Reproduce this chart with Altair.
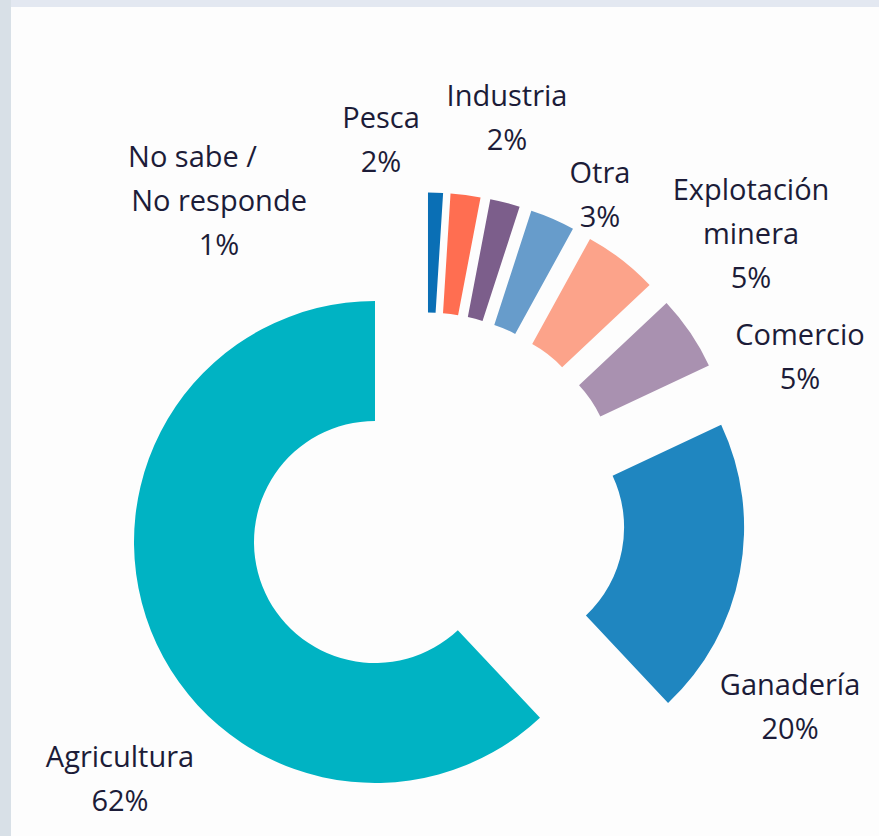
import altair as alt
import pandas as pd

# ---- data ----
categories = ["No sabe / No responde", "Pesca", "Industria", "Otra",
              "Explotación minera", "Comercio", "Ganadería", "Agricultura"]
values = [1, 2, 2, 3, 5, 5, 20, 62]
label_first = ["No sabe /", "Pesca", "Industria", "Otra",
               "Explotación", "Comercio", "Ganadería", "Agricultura"]
label_rest = ["No responde", "", "", "", "minera", "", "", ""]
colors = ["#0A6FB5", "#FF6E51", "#7C5E8B", "#679CCB",
          "#FCA38A", "#A991B0", "#1F86C0", "#00B3C3"]

# ---- layout / style (not data) ----
CX, CY = 375, 542          # centre of the main slice
GX, GY = 50.5, -29.5       # shift of the exploded group
EXPLODE = 79               # radial explosion of the small slices
R_OUT, R_IN = 241, 121
# label nudges relative to each slice's outer mid-point
nudge_x = [-216.5, -84.6, 1.9, 47.4, 129.4, 109.8, 50.2, -30.9]
nudge_y = [-25.7, -67.0, -96.5, -35.8, -59.6, 12.4, 122.5, 136.3]
LEFT_FIRST = {0: -91}      # first line drawn flush-left for this label

df = pd.DataFrame({
    "order": list(range(len(categories))),
    "category": categories,
    "value": values,
    "first": label_first,
    "rest": label_rest,
    "color": colors,
    "nx": nudge_x,
    "ny": nudge_y,
})

main = "Agricultura"

base = alt.Chart(df).transform_joinaggregate(
    total="sum(value)"
).transform_window(
    cum="sum(value)", sort=[alt.SortField("order")], frame=[None, 0]
).transform_calculate(
    t0="(datum.cum - datum.value) / datum.total * 2 * PI",
    t1="datum.cum / datum.total * 2 * PI",
).transform_calculate(
    mid="(datum.t0 + datum.t1) / 2",
).transform_calculate(
    cx=f"datum.category == '{main}' ? {CX} : {CX + GX} + {EXPLODE} * sin(datum.mid)",
    cy=f"datum.category == '{main}' ? {CY} : {CY + GY} - {EXPLODE} * cos(datum.mid)",
).transform_calculate(
    lx=f"datum.cx + {R_OUT} * sin(datum.mid) + datum.nx",
    ly=f"datum.cy - {R_OUT} * cos(datum.mid) + datum.ny",
).transform_calculate(
    body=("(datum.order == 0 ? '' : datum.first) + '\\n' + "
          "(datum.rest != '' ? datum.rest + '\\n' : '') + datum.value + '%'"),
)

arcs = base.mark_arc(radius=R_OUT, radius2=R_IN).encode(
    x=alt.X("cx:Q", scale=None, axis=None),
    y=alt.Y("cy:Q", scale=None, axis=None),
    theta=alt.Theta("t0:Q", scale=None),
    theta2=alt.Theta2("t1:Q"),
    color=alt.Color("color:N", scale=None, legend=None),
)

text_style = dict(font="Open Sans", fontSize=29, color="#1C1C38",
                  baseline="alphabetic", lineBreak="\n", lineHeight=44)

labels = base.mark_text(align="center", **text_style).encode(
    x=alt.X("lx:Q", scale=None, axis=None),
    y=alt.Y("ly:Q", scale=None, axis=None),
    text="body:N",
)

first_left = base.transform_filter("datum.order == 0").mark_text(
    align="left", dx=LEFT_FIRST[0], **text_style).encode(
    x=alt.X("lx:Q", scale=None, axis=None),
    y=alt.Y("ly:Q", scale=None, axis=None),
    text="first:N",
)

# page frame (top and left strips)
frame_df = pd.DataFrame({"part": ["top", "left"]})
top_strip = alt.Chart(frame_df).transform_filter("datum.part == 'top'").mark_rect(
    color="#E3E8F1").encode(
    x=alt.value(0), x2=alt.value(879), y=alt.value(0), y2=alt.value(7))
left_strip = alt.Chart(frame_df).transform_filter("datum.part == 'left'").mark_rect(
    color="#D8E0E7").encode(
    x=alt.value(0), x2=alt.value(11), y=alt.value(0), y2=alt.value(836))

chart = alt.layer(top_strip, left_strip, arcs, labels, first_left).properties(
    width=879, height=836, padding=0, autosize="none", background="#FDFDFD"
).configure_view(stroke=None)

chart.save("out.html", embed_options={"renderer": "svg", "actions": False})
